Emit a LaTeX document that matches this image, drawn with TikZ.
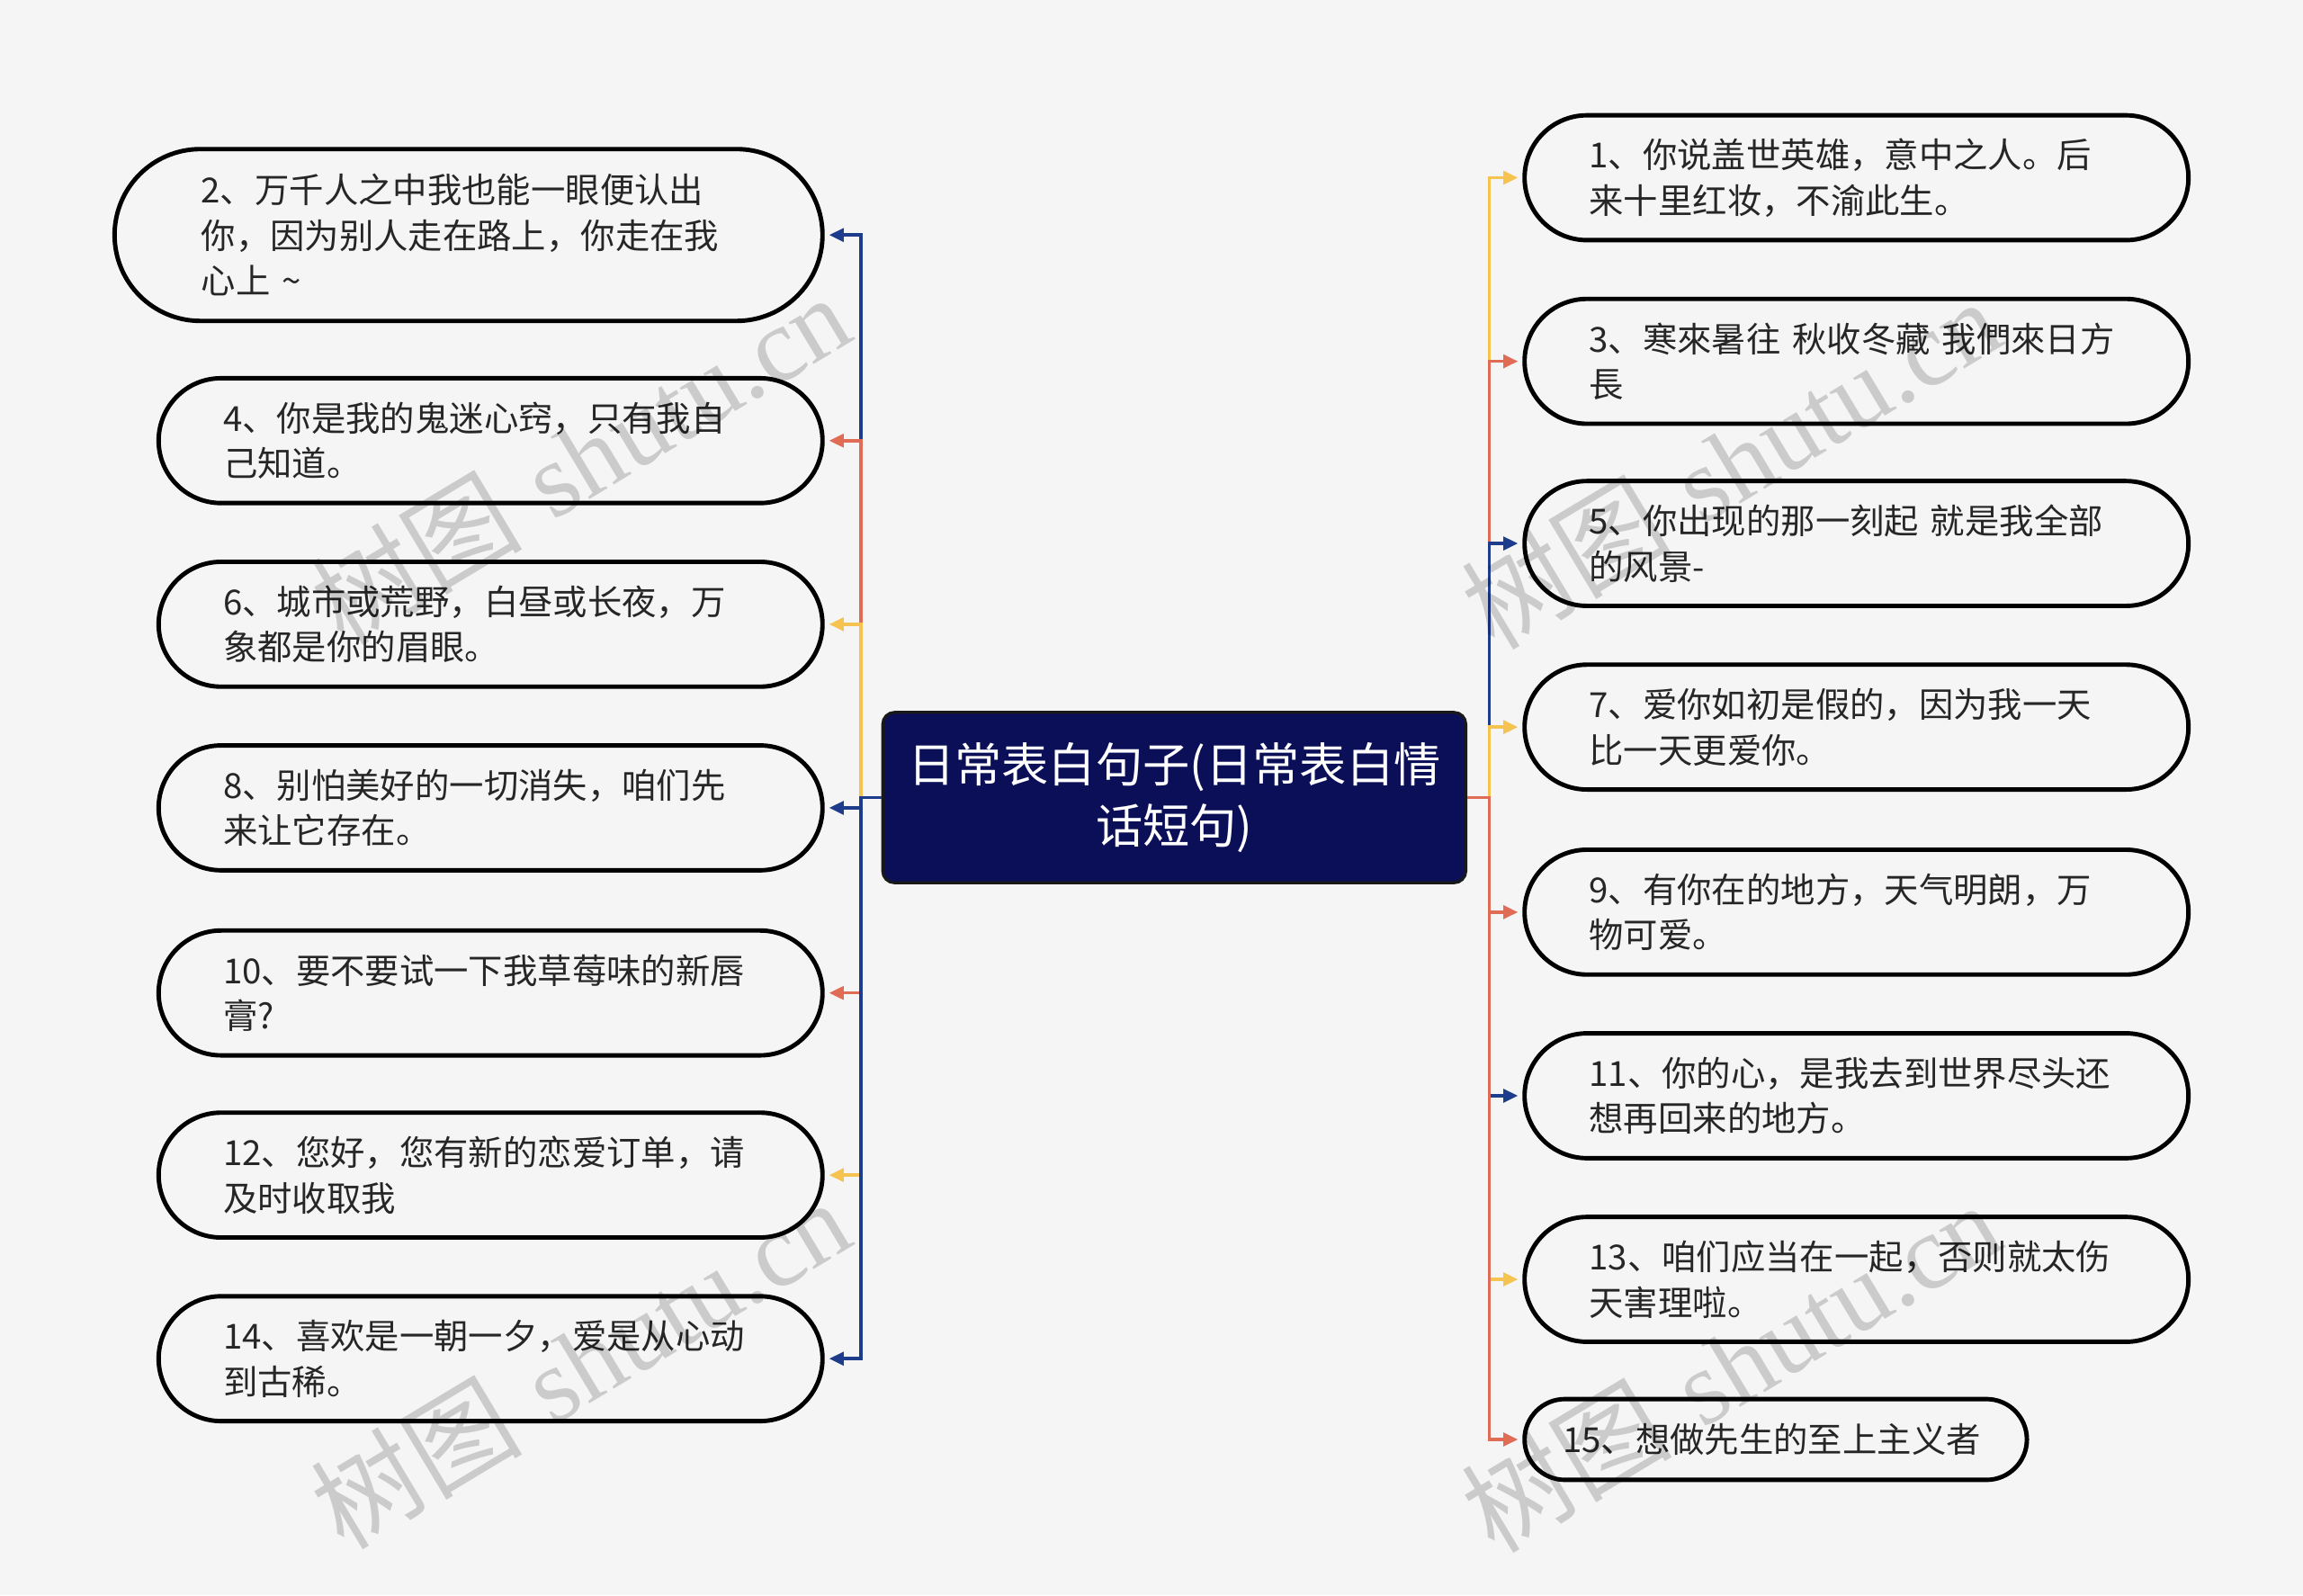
\documentclass[tikz,border=0pt]{standalone}
\usepackage{fontspec}
\newfontfamily\cjk{Noto Sans CJK SC}
\newfontfamily\wmserif{Liberation Serif}
\usetikzlibrary{arrows.meta}
\definecolor{bgc}{HTML}{F5F5F5}
\definecolor{cblue}{HTML}{1E3C8C}
\definecolor{cred}{HTML}{E06C55}
\definecolor{cyel}{HTML}{F5C350}
\definecolor{navyc}{HTML}{0A0F58}
\begin{document}
\begin{tikzpicture}[x=1pt,y=-1pt,
  leaf/.style={draw=black, line width=3pt, rounded corners=42.5pt,
    minimum height=85pt, text width=364pt, inner xsep=44pt, inner ysep=0pt,
    align=left, font=\cjk\fontsize{23.5}{31}\selectfont, text=black!85},
  rootbox/.style={draw=black!90, line width=2pt, fill=navyc, rounded corners=8pt,
    minimum width=397pt, minimum height=116pt, align=center, inner sep=0pt,
    font=\cjk\fontsize{32}{42}\selectfont, text=white},
  conn/.style={line width=2.2pt, -{Triangle[length=10pt,width=9pt]}, shorten >=3pt},
  cb/.style={conn, draw=cblue},
  cr/.style={conn, draw=cred},
  cy/.style={conn, draw=cyel},
  wm/.style={text=black, text opacity=0.17, font=\fontsize{72}{72}\selectfont, inner sep=0pt}
]
\useasboundingbox (0,0) rectangle (1568,1086);
\fill[bgc] (0,0) rectangle (1568,1086);

\node[rootbox] (c) at (799.5,543) {日常表白句子(日常表白情\\话短句)};

% left leaves
\node[leaf, minimum height=117pt, rounded corners=58.5pt, inner xsep=59pt] (L2) at (319,160) {2、万千人之中我也能一眼便认出\\你，因为别人走在路上，你走在我\\心上 \textasciitilde};
\node[leaf] (L4) at (334,300) {4、你是我的鬼迷心窍，只有我自\\己知道。};
\node[leaf] (L6) at (334,425) {6、城市或荒野，白昼或长夜，万\\象都是你的眉眼。};
\node[leaf] (L8) at (334,550) {8、别怕美好的一切消失，咱们先\\来让它存在。};
\node[leaf] (L10) at (334,676) {10、要不要试一下我草莓味的新唇\\膏?};
\node[leaf] (L12) at (334,800) {12、您好，您有新的恋爱订单，请\\及时收取我};
\node[leaf] (L14) at (334,925) {14、喜欢是一朝一夕，爱是从心动\\到古稀。};

% right leaves
\node[leaf] (R1) at (1264,121) {1、你说盖世英雄，意中之人。后\\来十里红妆，不渝此生。};
\node[leaf] (R3) at (1264,246) {3、寒來暑往 秋收冬藏 我們來日方\\長};
\node[leaf] (R5) at (1264,370) {5、你出现的那一刻起 就是我全部\\的风景-};
\node[leaf] (R7) at (1264,495) {7、爱你如初是假的，因为我一天\\比一天更爱你。};
\node[leaf] (R9) at (1264,621) {9、有你在的地方，天气明朗，万\\物可爱。};
\node[leaf] (R11) at (1264,746) {11、你的心，是我去到世界尽头还\\想再回来的地方。};
\node[leaf] (R13) at (1264,871) {13、咱们应当在一起，否则就太伤\\天害理啦。};
\node[leaf, minimum height=55pt, rounded corners=27.5pt, text width=290pt, inner xsep=26pt] (R15) at (1209,980) {15、想做先生的至上主义者};

% left connectors
\draw[cb] (c.west) -- ++(-14,0) |- (L2.east);
\draw[cr] (c.west) -- ++(-14,0) |- (L4.east);
\draw[cy] (c.west) -- ++(-14,0) |- (L6.east);
\draw[cb] (c.west) -- ++(-14,0) |- (L8.east);
\draw[cr] (c.west) -- ++(-14,0) |- (L10.east);
\draw[cy] (c.west) -- ++(-14,0) |- (L12.east);
\draw[cb] (c.west) -- ++(-14,0) |- (L14.east);

% right connectors
\draw[cy] (c.east) -- ++(15,0) |- (R1.west);
\draw[cr] (c.east) -- ++(15,0) |- (R3.west);
\draw[cb] (c.east) -- ++(15,0) |- (R5.west);
\draw[cy] (c.east) -- ++(15,0) |- (R7.west);
\draw[cr] (c.east) -- ++(15,0) |- (R9.west);
\draw[cb] (c.east) -- ++(15,0) |- (R11.west);
\draw[cy] (c.east) -- ++(15,0) |- (R13.west);
\draw[cr] (c.east) -- ++(15,0) |- (R15.west);

% watermarks
\node[wm, rotate=31] (w1) at (395,312) {{\cjk 树图} {\wmserif shutu.cn}};
\node[wm, rotate=31] (w2) at (395,928) {{\cjk 树图} {\wmserif shutu.cn}};
\node[wm, rotate=31] (w3) at (1178,315) {{\cjk 树图} {\wmserif shutu.cn}};
\node[wm, rotate=31] (w4) at (1178,930) {{\cjk 树图} {\wmserif shutu.cn}};
\end{tikzpicture}
\end{document}
